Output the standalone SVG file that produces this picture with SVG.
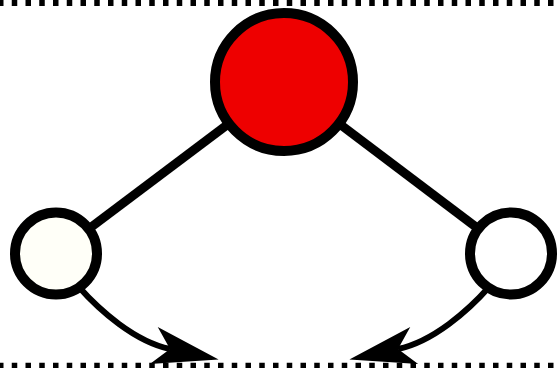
<svg xmlns="http://www.w3.org/2000/svg" width="558" height="368" viewBox="0 0 558 368">
<style>
.rule{stroke:#000;stroke-dasharray:5.5 8.25;fill:none}
.edge{stroke:#000;stroke-width:9;fill:none}
.arc{stroke:#000;stroke-width:6;fill:none;marker-end:url(#ah)}
.node{stroke:#000;stroke-width:10}
</style>
<defs>
<marker id="ah" markerUnits="userSpaceOnUse" orient="auto" refX="0" refY="0" markerWidth="80" markerHeight="80" viewBox="-20 -20 70 40" overflow="visible">
<path d="M43.5 0 L-14.5 -16.5 L0 0 L-14.5 16.5 Z" fill="#000"/>
</marker>
</defs>
<g id="rules">
<line class="rule" x1="-2" y1="3" x2="560" y2="3" stroke-width="6"/>
<line class="rule" x1="-2" y1="365.5" x2="560" y2="365.5" stroke-width="5.5"/>
</g>
<g id="connectors">
<line class="edge" x1="284" y1="82" x2="56" y2="253.5"/>
<line class="edge" x1="284" y1="82" x2="511" y2="253.5"/>
<path class="arc" d="M78 286 C100 311 135 341.5 170 349"/>
<path class="arc" d="M490 286 C468 311 433 341.5 398 349"/>
</g>
<g id="top">
<circle class="node" cx="284" cy="82" r="69" fill="#ee0000"/>
</g>
<g id="left">
<circle class="node" cx="56" cy="253.5" r="41" fill="#fffff8"/>
</g>
<g id="right">
<circle class="node" cx="511" cy="253.5" r="41" fill="#ffffff"/>
</g>
</svg>
